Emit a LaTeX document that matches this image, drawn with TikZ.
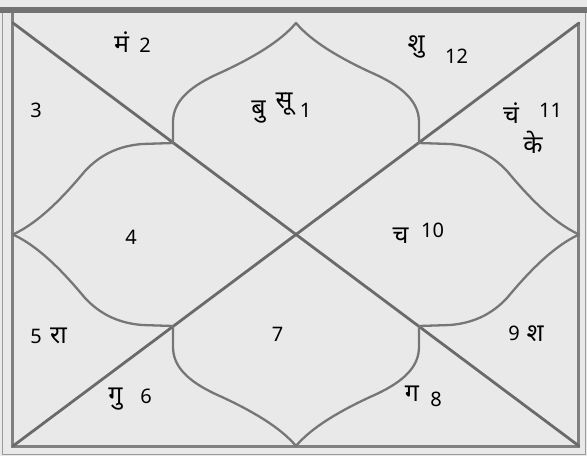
\documentclass[tikz,border=0pt]{standalone}
\usepackage{fontspec}
\setmainfont[Script=Devanagari]{Noto Sans}
\newfontfamily\dev[Script=Devanagari]{Noto Sans}
\definecolor{bg}{HTML}{E9E9E9}
\definecolor{band}{HTML}{727272}
\definecolor{outline}{HTML}{9A9A9A}
\definecolor{inline}{HTML}{808080}
\definecolor{diagc}{HTML}{6A6A6A}
\definecolor{petalc}{HTML}{767676}
\tikzset{
  frameout/.style={draw=outline, line width=1.3pt},
  framein/.style={draw=inline, line width=3pt},
  diagline/.style={draw=diagc, line width=2.8pt, line cap=round},
  petal/.style={draw=petalc, line width=2.3pt, line join=round, line cap=round},
  lbl/.style={anchor=base, inner sep=0pt, text=black, font=\dev\fontsize{20}{24}\selectfont},
  dlbl/.style={anchor=base, inner sep=0pt, text=black, font=\dev\fontsize{25}{30}\selectfont}
}
\begin{document}
\begin{tikzpicture}[x=1pt,y=-1pt]
\fill[bg] (0,0) rectangle (587,456);
\useasboundingbox (0,0) rectangle (587,456);
% frame
\fill[band] (0,7) rectangle (587,13);
\draw[frameout] (2.5,13) -- (2.5,454.5) -- (585.5,454.5) -- (585.5,13);
\draw[framein] (12.5,13) -- (12.5,446.5) -- (578.5,446.5) -- (578.5,23);
% key points
\coordinate (tl) at (13,23);
\coordinate (tr) at (579,23);
\coordinate (bl) at (13,446);
\coordinate (br) at (579,446);
\coordinate (ttip) at (296,23);
\coordinate (btip) at (296,446);
\coordinate (ltip) at (13,234.5);
\coordinate (rtip) at (579,234.5);
\coordinate (jtl) at (173,143);
\coordinate (jtr) at (419,143);
\coordinate (jbl) at (173,326);
\coordinate (jbr) at (419,326);
% diagonals
\draw[diagline] (tl) -- (br);
\draw[diagline] (bl) -- (tr);
% top petal
\draw[petal] (jtl) -- (173,122) .. controls (173,100) and (192,85) .. (222,72) .. controls (252,58) and (280,42) .. (ttip);
\draw[petal] (jtr) -- (419,122) .. controls (419,100) and (400,85) .. (370,72) .. controls (340,58) and (312,42) .. (ttip);
% bottom petal
\draw[petal] (jbl) -- (173,347) .. controls (173,369) and (192,384) .. (222,397) .. controls (252,411) and (280,427) .. (btip);
\draw[petal] (jbr) -- (419,347) .. controls (419,369) and (400,384) .. (370,397) .. controls (340,411) and (312,427) .. (btip);
% left petal
\draw[petal] (jtl) -- (142,144) .. controls (118,146) and (100,155) .. (85,171) .. controls (65,195) and (40,222) .. (ltip);
\draw[petal] (jbl) -- (142,325) .. controls (118,323) and (100,314) .. (85,298) .. controls (65,274) and (40,247) .. (ltip);
% right petal
\draw[petal] (jtr) -- (450,144) .. controls (474,146) and (492,155) .. (507,171) .. controls (527,195) and (552,222) .. (rtip);
\draw[petal] (jbr) -- (450,325) .. controls (474,323) and (492,314) .. (507,298) .. controls (527,274) and (552,247) .. (rtip);
% labels
\node[dlbl] (h2a) at (121.5,52) {मं};
\node[lbl] (h2) at (145,52) {2};
\node[lbl] (h3) at (36,117) {3};
\node[dlbl] (h1a) at (258.5,116) {बु};
\node[dlbl] (h1b) at (284,108) {सू};
\node[lbl] (h1) at (305.5,117) {1};
\node[dlbl] (h12a) at (416,51) {शु};
\node[lbl] (h12) at (456.5,63) {12};
\node[dlbl] (h11a) at (511,123) {चं};
\node[lbl] (h11) at (550.5,117) {11};
\node[dlbl] (h11b) at (533,153) {के};
\node[lbl] (h4) at (131,244) {4};
\node[dlbl] (h10a) at (400.5,243) {च};
\node[lbl] (h10) at (432.5,237) {10};
\node[lbl] (h5) at (36,343) {5};
\node[dlbl] (h5a) at (58.5,343) {रा};
\node[lbl] (h7) at (277.5,341) {7};
\node[dlbl] (h6a) at (115.5,403) {गु};
\node[lbl] (h6) at (146,403) {6};
\node[dlbl] (h8a) at (412,401) {ग};
\node[lbl] (h8) at (436,406) {8};
\node[lbl] (h9) at (514,340) {9};
\node[dlbl] (h9a) at (535,341) {श};
\end{tikzpicture}
\end{document}
